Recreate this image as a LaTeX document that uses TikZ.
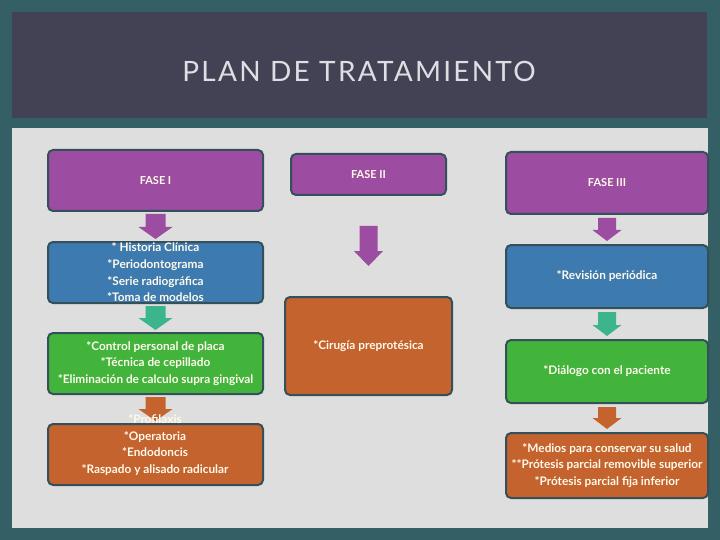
\documentclass[tikz,border=0pt]{standalone}
\usepackage{fontspec}
\setmainfont{Lato}
\usetikzlibrary{calc,positioning}
\definecolor{marco}{RGB}{52,95,101}
\definecolor{barra}{RGB}{67,66,84}
\definecolor{panel}{RGB}{222,222,222}
\definecolor{titulo}{RGB}{222,222,228}
\definecolor{borde}{RGB}{52,80,90}
\definecolor{morado}{RGB}{156,76,161}
\definecolor{azul}{RGB}{61,122,175}
\definecolor{verde}{RGB}{66,180,60}
\definecolor{naranja}{RGB}{196,99,45}
\definecolor{turquesa}{RGB}{60,180,140}
\definecolor{crema}{RGB}{255,250,236}

% block arrow between two boxes: colour, from, to, gap, half shaft, half head, head length
\newcommand{\flecha}[7]{%
  \fill[#1] let \p1=($(#2.south)+(0,#4)$), \p2=($(#3.north)-(0,#4)$) in
    (\x1-#5pt,\y1) -- (\x1+#5pt,\y1) -- (\x1+#5pt,\y2+#7pt) -- (\x1+#6pt,\y2+#7pt)
    -- (\x1,\y2) -- (\x1-#6pt,\y2+#7pt) -- (\x1-#5pt,\y2+#7pt) -- cycle;}

\begin{document}
\begin{tikzpicture}[x=1pt,y=-1pt,
  caja/.style={draw=borde, line width=2pt, rounded corners=5pt, inner sep=0pt},
  texto/.style={text=crema, align=center, font=\bfseries\fontsize{11.8}{16.7}\selectfont},
  fase/.style={text=crema, font=\bfseries\fontsize{11}{13}\selectfont}]
  \useasboundingbox (0,0) rectangle (720,540);

  % Background, title bar and panel
  \fill[marco] (0,0) rectangle (720,540);
  \fill[barra] (12,12) rectangle (707,118);
  \fill[panel] (12,128) rectangle (708,528);
  \node[text=titulo, font=\addfontfeatures{LetterSpace=8}\fontsize{28}{32}\selectfont] (titulo) at (359,71) {PLAN DE TRATAMIENTO};

  % Fase I column
  \node[caja, fill=morado, minimum width=215, minimum height=61, fase] (f1) at (155.5,180.5) {FASE I};
  \node[caja, fill=azul, minimum width=215, minimum height=61, texto] (b1) at (155.5,272.5)
    {* Historia Clínica\\*Periodontograma\\*Serie radiográfica\\*Toma de modelos};
  \node[caja, fill=verde, minimum width=215, minimum height=61, texto] (g1) at (155.5,363.5)
    {*Control personal de placa\\*Técnica de cepillado\\*Eliminación de calculo supra gingival};
  \node[caja, fill=naranja, minimum width=215, minimum height=61] (o1) at (155.5,454.5) {};

  % Fase II column
  \node[caja, fill=morado, minimum width=155, minimum height=41, fase] (f2) at (368.5,174.5) {FASE II};
  \node[caja, fill=naranja, minimum width=167, minimum height=98, texto] (o2) at (368.5,346) {*Cirugía preprotésica};

  % Fase III column
  \node[caja, fill=morado, minimum width=202, minimum height=62, fase] (f3) at (607,183) {FASE III};
  \node[caja, fill=azul, minimum width=202, minimum height=63, texto] (b3) at (607,276.5) {*Revisión periódica};
  \node[caja, fill=verde, minimum width=202, minimum height=63, texto] (g3) at (607,371.5) {*Diálogo con el paciente};
  \node[caja, fill=naranja, minimum width=202, minimum height=65, texto] (o3) at (607,465.5)
    {*Medios para conservar su salud\\**Prótesis parcial removible superior\\*Prótesis parcial fija inferior};

  % Block arrows
  \flecha{morado}{f1}{b1}{2}{10}{17}{12}
  \flecha{turquesa}{b1}{g1}{2}{10}{17}{12}
  \flecha{naranja}{g1}{o1}{2}{10}{17}{12}
  \flecha{morado}{f2}{o2}{30}{9}{14.5}{15}
  \flecha{morado}{f3}{b3}{3}{9}{14.5}{11}
  \flecha{turquesa}{b3}{g3}{3}{9}{14.5}{11}
  \flecha{naranja}{g3}{o3}{3}{9}{14.5}{11}

  % Fase I last box text sits over the arrow
  \node[texto] (to1) at (155,445) {*Profilaxis\\*Operatoria\\*Endodoncis\\*Raspado y alisado radicular};
\end{tikzpicture}
\end{document}
